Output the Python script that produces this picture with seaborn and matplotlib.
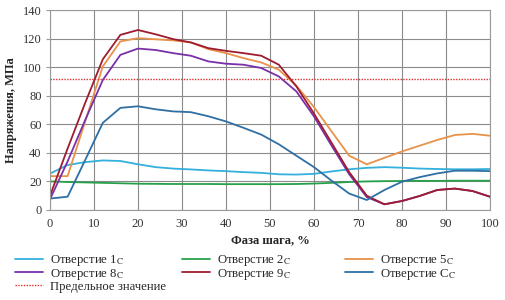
import numpy as np
import pandas as pd
import seaborn as sns
import matplotlib
matplotlib.use("Agg")
import matplotlib.pyplot as plt

# Фаза шага, %
faza = [0, 4, 8, 12, 16, 20, 24, 28, 32, 36, 40, 44, 48,
        52, 56, 60, 64, 68, 72, 76, 80, 84, 88, 92, 96, 100]

# Напряжения, МПа
otv_1 = [25.5, 31.5, 33.5, 34.7, 34.3, 32.0, 30.0, 29.0, 28.4, 27.7, 27.2, 26.5, 26.0,
         25.0, 24.8, 25.3, 27.0, 28.5, 29.5, 30.0, 29.6, 29.0, 28.7, 28.5, 28.5, 28.7]
otv_2 = [20.0, 19.6, 19.3, 19.0, 18.7, 18.4, 18.3, 18.2, 18.2, 18.2, 18.1, 18.1, 18.1,
         18.1, 18.2, 18.5, 19.0, 19.6, 20.0, 20.2, 20.3, 20.4, 20.4, 20.5, 20.5, 20.5]
otv_5 = [23.7, 23.7, 62.0, 100.5, 118.0, 120.3, 119.5, 118.7, 117.3, 112.6, 109.8, 106.3, 103.3,
         98.2, 87.0, 72.0, 55.0, 38.0, 32.0, 36.5, 41.0, 45.0, 49.0, 52.5, 53.3, 52.0]
otv_8 = [7.5, 34.0, 63.0, 91.0, 108.6, 113.0, 112.0, 109.8, 108.0, 104.0, 102.4, 101.7, 99.4,
         93.5, 83.0, 65.5, 45.0, 25.0, 9.0, 4.0, 6.3, 9.8, 14.0, 15.0, 13.3, 9.3]
otv_9 = [10.0, 43.0, 75.0, 105.5, 122.6, 126.0, 123.0, 119.6, 117.3, 113.3, 111.4, 109.8, 108.0,
         101.7, 86.5, 67.5, 47.0, 26.5, 10.0, 4.0, 6.3, 9.8, 14.0, 15.0, 13.3, 9.3]
otv_c = [8.0, 9.3, 35.0, 61.0, 71.5, 72.6, 70.5, 69.0, 68.5, 65.6, 62.0, 57.5, 52.8,
         46.0, 38.0, 30.0, 20.5, 11.5, 7.0, 14.0, 19.8, 23.0, 25.6, 27.5, 27.5, 27.2]
predel = 92

nazvaniya = [r"Отверстие 1$_\mathrm{C}$", r"Отверстие 2$_\mathrm{C}$", r"Отверстие 5$_\mathrm{C}$",
             r"Отверстие 8$_\mathrm{C}$", r"Отверстие 9$_\mathrm{C}$", r"Отверстие C$_\mathrm{C}$"]
cveta = ["#33b0dc", "#27a04a", "#e8924a", "#7a30a8", "#9e1c30", "#2f6fa3"]

sns.set_style("white")
plt.rcParams["font.family"] = ["Liberation Serif", "DejaVu Serif"]
plt.rcParams["mathtext.fontset"] = "stix"

# Длинный формат для seaborn
df = pd.DataFrame({"faza": faza * 6,
                   "napr": otv_1 + otv_2 + otv_5 + otv_8 + otv_9 + otv_c,
                   "serija": np.repeat(nazvaniya, len(faza))})

fig = plt.figure(figsize=(5.05, 3.0), dpi=100)
ax = fig.add_axes([50 / 505, 90 / 300, 440 / 505, 200 / 300])

sns.lineplot(data=df, x="faza", y="napr", hue="serija", hue_order=nazvaniya,
             palette=cveta, linewidth=1.3, ax=ax, legend=False, sort=False)
ax.axhline(predel, color="#e03030", linestyle=(0, (1, 1)), linewidth=1.0)

ax.set_xlim(0, 100)
ax.set_ylim(0, 140)
ax.set_xticks(range(0, 101, 10))
ax.set_yticks(range(0, 141, 20))
ax.grid(True, color="#8a8a8a", linewidth=0.8)
ax.set_axisbelow(True)
for s in ax.spines.values():
    s.set_color("#9a9a9a")
    s.set_linewidth(0.8)
ax.tick_params(axis="both", labelsize=9, colors="#333333", length=3, width=0.8,
               left=True, bottom=False, pad=3)
ax.tick_params(axis="y", color="#9a9a9a")
ax.set_xlabel("Фаза шага, %", fontsize=9, fontweight="bold", labelpad=3)
ax.set_ylabel("Напряжения, МПа", fontsize=9, fontweight="bold", labelpad=4)

# Легенда: три колонки одинаковой ширины, как в Excel
h = {n: plt.Line2D([], [], color=c, linewidth=1.3) for n, c in zip(nazvaniya, cveta)}
h_pred = plt.Line2D([], [], color="#e03030", linestyle=(0, (1, 1)), linewidth=1.0)
kolonki = [
    ([h[nazvaniya[0]], h[nazvaniya[3]], h_pred], [nazvaniya[0], nazvaniya[3], "Предельное значение"], 10),
    ([h[nazvaniya[1]], h[nazvaniya[4]]], [nazvaniya[1], nazvaniya[4]], 177),
    ([h[nazvaniya[2]], h[nazvaniya[5]]], [nazvaniya[2], nazvaniya[5]], 340),
]
for hh, ll, x0 in kolonki:
    fig.legend(hh, ll, loc="upper left", bbox_to_anchor=(x0 / 505, 1 - 248 / 300),
               frameon=False, fontsize=9.2, handlelength=2.2, handletextpad=0.55,
               labelspacing=-0.1, borderaxespad=0)

fig.savefig("out.png", dpi=100)
